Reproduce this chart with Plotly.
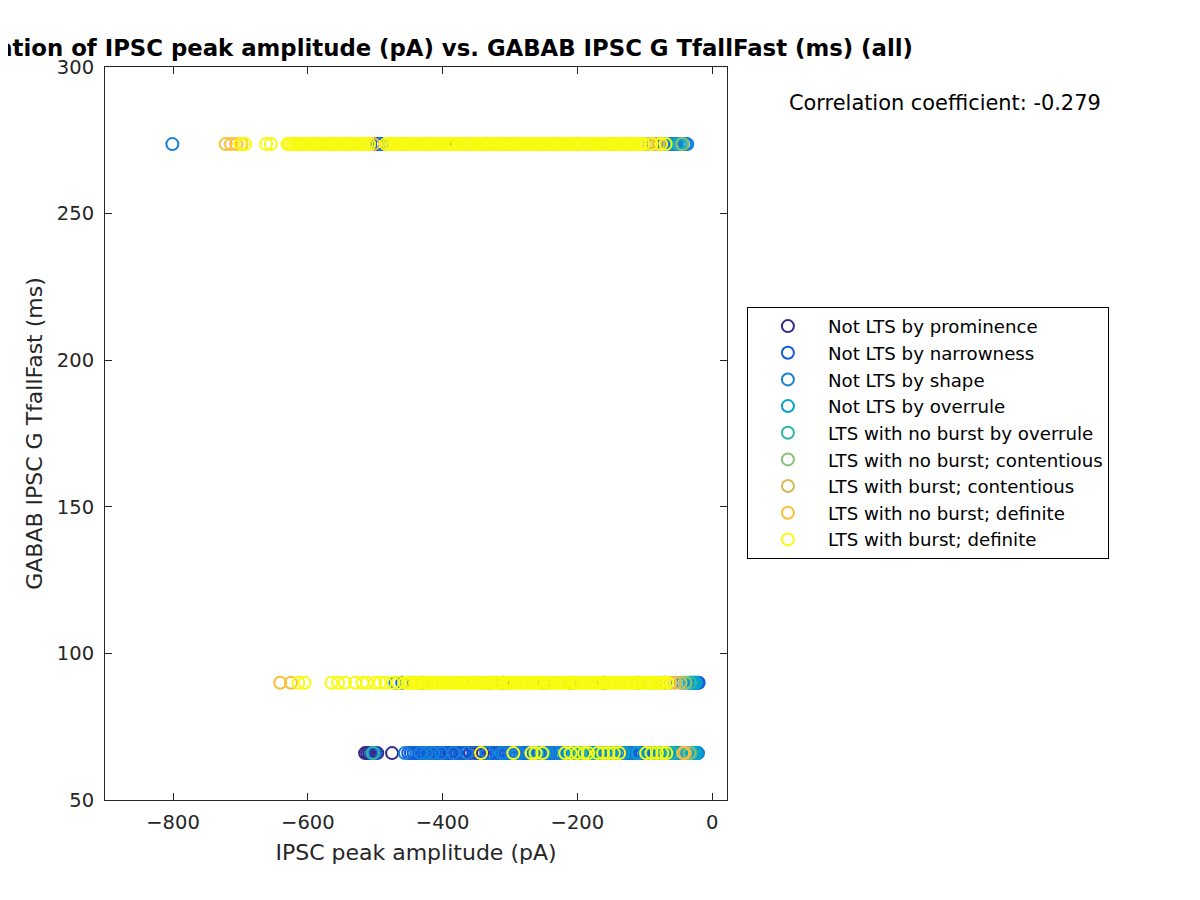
import plotly.graph_objects as go

# three clusters of GABAB TfallFast values (ms)
row_y = [273.7, 90, 66]

labels = ['Not LTS by prominence', 'Not LTS by narrowness', 'Not LTS by shape',
          'Not LTS by overrule', 'LTS with no burst by overrule',
          'LTS with no burst; contentious', 'LTS with burst; contentious',
          'LTS with no burst; definite', 'LTS with burst; definite']

colors = ['#352a87', '#0f5cdd', '#1481d6', '#06a4ca', '#2eb7a4',
          '#87bf77', '#d1bb59', '#fbbf3a', '#f9fb0e']

# IPSC peak amplitude (pA) per group, one list per row (273, 90, 66)
prominence = [[-497, -455, -333, -240, -120],
              [-430, -310, -160],
              [-515, -512, -509, -506, -503, -497, -475, -423, -389, -380, -370, -359,
               -350, -345, -340, -335]]

narrowness = [[-490, -380, -200, -95, -60],
              [-460, -330, -210, -110, -26, -22, -20],
              [-500, -451, -447, -443, -439, -435, -431, -427, -420, -416, -412, -408,
               -404, -400, -396, -392, -386, -378, -372, -366, -352, -330, -325, -320,
               -316, -311, -306, -302, -282, -278, -275, -258, -240, -235, -230, -226,
               -210, -198, -172, -168, -130, -126, -122, -118, -112, -107, -104, -85,
               -58, -50, -28, -22]]

shape = [[-801, -493, -300, -88, -78, -72, -68, -64, -60, -56, -52, -48, -44, -40, -37],
         [-470, -250, -70, -44, -30, -26],
         [-505, -456, -433, -424, -414, -402, -384, -364, -334, -313, -309, -298,
          -290, -286, -272, -264, -262, -255, -248, -245, -243, -232, -225, -215,
          -205, -195, -192, -180, -175, -165, -160, -155, -150, -145, -140, -134,
          -127, -117, -110, -100, -95, -88, -78, -72, -64, -54, -46, -36, -30, -26,
          -21]]

overrule = [[-150, -66, -52, -48],
            [-90, -34, -31, -28, -24],
            [-260, -250, -220, -212, -205, -200, -188, -183, -178, -168, -160, -152,
             -145, -132, -110, -98, -88, -80, -75, -70, -66, -62, -55, -48, -42, -38,
             -34, -30, -27, -24]]

nob_overrule = [[-47], [-38, -33], [-503, -196, -60, -31]]

nob_contentious = [[-44], [-40], [-34]]

burst_contentious = [[-84], [-55, -47], [-40]]

nob_definite = [[-722, -714, -706, -698, -503, -475, -96, -80],
                [-641, -625, -440, -62],
                [-43]]

burst_definite = [[-700, -693, -662, -655, -630, -627, -623, -619, -616, -612, -608, -605,
                   -601, -597, -594, -590, -586, -583, -579, -575, -572, -568, -564,
                   -561, -557, -553, -550, -546, -542, -539, -535, -531, -528, -524,
                   -520, -517, -513, -509, -484, -480, -476, -472, -469, -465, -461,
                   -458, -454, -450, -447, -443, -439, -436, -432, -428, -425, -421,
                   -417, -414, -410, -406, -403, -399, -395, -392, -388, -384, -381,
                   -377, -373, -370, -366, -362, -359, -355, -351, -348, -344, -340,
                   -337, -333, -329, -326, -322, -318, -315, -311, -307, -304, -300,
                   -296, -293, -289, -285, -282, -278, -274, -271, -267, -263, -260,
                   -256, -252, -249, -245, -241, -238, -234, -230, -227, -223, -219,
                   -216, -212, -208, -205, -201, -197, -194, -190, -186, -183, -179,
                   -175, -172, -168, -164, -161, -157, -153, -150, -146, -142, -139,
                   -135, -131, -128, -124, -120, -117, -113, -109, -106, -102, -90,
                   -76, -69],
                  [-614, -605, -565, -555, -545, -530, -519, -512, -500, -493, -485,
                   -474, -466, -456, -452, -449, -445, -441, -438, -434, -430, -427,
                   -423, -419, -416, -412, -408, -405, -401, -397, -394, -390, -386,
                   -383, -379, -375, -372, -368, -364, -361, -357, -353, -350, -346,
                   -342, -339, -335, -331, -328, -324, -320, -317, -313, -309, -306,
                   -302, -298, -295, -291, -287, -284, -280, -276, -273, -269, -265,
                   -262, -258, -254, -251, -247, -243, -240, -236, -232, -229, -225,
                   -221, -218, -214, -210, -207, -203, -199, -196, -192, -188, -185,
                   -181, -177, -174, -170, -166, -163, -159, -155, -152, -148, -144,
                   -141, -137, -133, -130, -126, -122, -119, -115, -111, -108, -104,
                   -100, -97, -93, -89, -86, -82, -78, -75, -71, -67],
                  [-343, -295, -268, -262, -252, -218, -210, -200, -190, -184, -170,
                   -162, -154, -146, -138, -98, -90, -82, -74, -68]]

groups = [prominence, narrowness, shape, overrule, nob_overrule,
          nob_contentious, burst_contentious, nob_definite, burst_definite]

corr_text = 'Correlation coefficient: -0.279'

font = 'DejaVu Sans'
axis_col = 'rgb(38,38,38)'

fig = go.Figure()
for name, col, rows in zip(labels, colors, groups):
    xs, ys = [], []
    for yv, xr in zip(row_y, rows):
        xs += xr
        ys += [yv] * len(xr)
    fig.add_trace(go.Scatter(
        x=xs, y=ys, mode='markers', name=name,
        marker=dict(symbol='circle-open', size=12, color=col,
                    line=dict(width=2, color=col))
    ))

fig.add_annotation(text=corr_text, xref='paper', yref='paper', x=1.0965, y=0.951,
                   xanchor='left', yanchor='middle', showarrow=False,
                   font=dict(family=font, size=20.9, color='black'))

axis_common = dict(showline=True, linecolor=axis_col, linewidth=1, mirror='ticks',
                   ticks='inside', ticklen=7, tickcolor=axis_col, showgrid=False,
                   zeroline=False, tickfont=dict(family=font, size=19.5, color=axis_col))

fig.update_layout(
    width=1200, height=900,
    paper_bgcolor='white', plot_bgcolor='white',
    margin=dict(l=97, r=481, t=59, b=108),
    title=dict(text='<b>Correlation of IPSC peak amplitude (pA) vs. GABAB IPSC G TfallFast (ms) (all)</b>',
               x=0.5, xref='paper', y=1 - 40 / 900, yref='container',
               xanchor='center', yanchor='middle',
               font=dict(family=font, size=22.8, color='black')),
    xaxis=dict(range=[-901, 22], tickvals=[-800, -600, -400, -200, 0],
               ticklabelstandoff=5,
               title=dict(text='IPSC peak amplitude (pA)', standoff=11,
                          font=dict(family=font, size=22, color=axis_col)),
               **axis_common),
    yaxis=dict(range=[50, 300], tickvals=[50, 100, 150, 200, 250, 300],
               ticklabelstandoff=6,
               title=dict(text='GABAB IPSC G TfallFast (ms)', standoff=8,
                          font=dict(family=font, size=22, color=axis_col)),
               **axis_common),
    legend=dict(x=1.032, y=0.501, xanchor='left', yanchor='middle',
                bgcolor='white', bordercolor='black', borderwidth=1,
                itemwidth=70, font=dict(family=font, size=18.2, color='black')),
)

fig.write_html('out.html')
